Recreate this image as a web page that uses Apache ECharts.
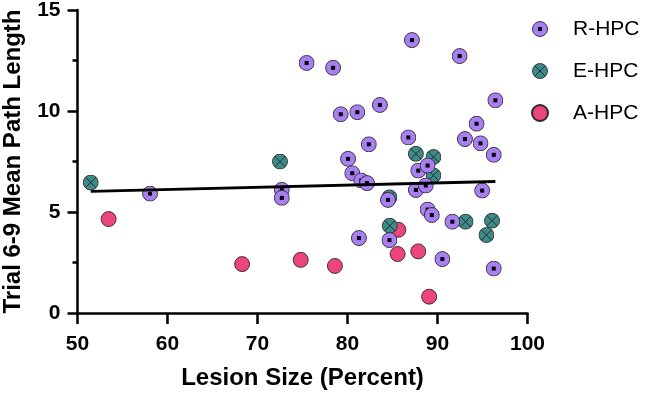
<!DOCTYPE html>
<html>
<head>
<meta charset="utf-8">
<script src="https://cdn.jsdelivr.net/npm/echarts@6/dist/echarts.min.js"></script>
<style>
    html, body { margin: 0; padding: 0; background: #fff; }
    #chart { width: 652px; height: 393px; }
</style>
</head>
<body>
<div id="chart"></div>
<script>
    // R-HPC points (lesion size %, mean path length)
    var rX = [58.06, 75.46, 78.4, 79.25, 81.09, 83.6, 82.37, 80.06, 80.53, 81.53, 82.17, 72.7, 72.7, 81.27,
              87.16, 86.76, 87.86, 88.9, 87.6, 88.7, 84.5, 88.9, 89.37, 84.66, 90.54, 91.65,
              92.46, 96.43, 94.34, 93.05, 94.78, 96.25, 94.96, 96.25];
    var rY = [5.91, 12.38, 12.14, 9.84, 9.94, 10.3, 8.35, 7.63, 6.92, 6.56, 6.43, 6.1, 5.7, 3.71,
              13.51, 8.69, 7.05, 7.3, 6.09, 6.31, 5.6, 5.12, 4.85, 3.61, 2.67, 4.52,
              12.72, 10.53, 9.37, 8.61, 8.4, 7.83, 6.06, 2.2];
    // E-HPC
    var eX = [51.47, 72.5, 87.6, 89.55, 89.55, 84.66, 84.7, 93.12, 96.06, 95.44];
    var eY = [6.46, 7.5, 7.88, 7.72, 6.81, 5.73, 4.32, 4.52, 4.57, 3.86];
    // A-HPC
    var aX = [53.46, 68.29, 74.8, 78.6, 85.65, 85.57, 87.86, 89.07];
    var aY = [4.65, 2.42, 2.63, 2.33, 4.12, 2.92, 3.05, 0.81];
    // fitted line end points
    var fitX = [51.47, 96.43];
    var fitY = [6.02, 6.51];

    var xTicks = [50, 60, 70, 80, 90, 100];
    var yTicks = [0, 5, 10, 15];

    function pairs(xs, ys) {
        return xs.map(function (x, i) { return [x, ys[i]]; });
    }

    function icon(fill, inner) {
        var s = '<svg xmlns="http://www.w3.org/2000/svg" width="32" height="32" viewBox="0 0 32 32">' +
            '<circle cx="16" cy="16" r="15" fill="' + fill + '" stroke="#2b2b2b" stroke-width="1.8"/>' +
            inner + '</svg>';
        return 'image://data:image/svg+xml;charset=utf-8,' + encodeURIComponent(s);
    }

    var rIcon = icon('#a97ff1', '<rect x="12" y="12" width="8" height="8" fill="#000"/>');
    var eIcon = icon('#3d8b88', '<path d="M5.6 5.6L26.4 26.4M26.4 5.6L5.6 26.4" stroke="#222" stroke-width="1.8"/>');

    var axisFont = 'Liberation Sans, Arial, sans-serif';

    var chart = echarts.init(document.getElementById('chart'));
    chart.setOption({
        animation: false,
        grid: { left: 77.5, right: 124.5, top: 10, bottom: 80, containLabel: false, outerBoundsMode: 'none' },
        legend: {
            data: ['R-HPC', 'E-HPC', 'A-HPC'],
            orient: 'vertical',
            left: 531,
            top: 18,
            padding: 0,
            itemWidth: 16,
            itemHeight: 16,
            itemGap: 20,
            textStyle: {
                fontFamily: axisFont,
                fontSize: 21,
                lineHeight: 22,
                color: '#000',
                padding: [0, 0, 0, 20]
            }
        },
        xAxis: {
            type: 'value',
            min: 50,
            max: 100,
            interval: 10,
            name: 'Lesion Size (Percent)',
            nameLocation: 'middle',
            nameGap: 53,
            nameTextStyle: { fontFamily: axisFont, fontSize: 24, fontWeight: 'bold', color: '#000' },
            splitLine: { show: false },
            axisLine: { onZero: false, lineStyle: { color: '#000', width: 2.5 } },
            axisTick: { length: 11, lineStyle: { color: '#000', width: 2.5 } },
            axisLabel: {
                margin: 21,
                fontFamily: axisFont,
                fontSize: 21,
                fontWeight: 'bold',
                color: '#000',
                formatter: function (v) { return xTicks.indexOf(v) >= 0 ? String(v) : ''; }
            }
        },
        yAxis: {
            type: 'value',
            min: 0,
            max: 15,
            interval: 5,
            name: 'Trial 6-9 Mean Path Length',
            nameLocation: 'middle',
            nameGap: 52,
            nameTextStyle: { fontFamily: axisFont, fontSize: 24, fontWeight: 'bold', color: '#000' },
            splitLine: { show: false },
            axisLine: { show: true, onZero: false, lineStyle: { color: '#000', width: 2.5 } },
            axisTick: { show: true, length: 10, lineStyle: { color: '#000', width: 2.5 } },
            minorTick: { show: true, splitNumber: 2, length: 5, lineStyle: { color: '#000', width: 2.5 } },
            axisLabel: {
                margin: 17,
                fontFamily: axisFont,
                fontSize: 21,
                fontWeight: 'bold',
                color: '#000',
                formatter: function (v) { return yTicks.indexOf(v) >= 0 ? String(v) : ''; }
            }
        },
        series: [
            {
                name: 'A-HPC',
                type: 'scatter',
                symbol: 'circle',
                symbolSize: 15,
                itemStyle: { color: '#ec4579', borderColor: '#2b2b2b', borderWidth: 0.9, opacity: 1 },
                data: pairs(aX, aY),
                z: 2
            },
            {
                name: 'E-HPC',
                type: 'scatter',
                symbol: eIcon,
                symbolSize: 16,
                itemStyle: { color: '#3d8b88', opacity: 1 },
                data: pairs(eX, eY),
                z: 3
            },
            {
                name: 'R-HPC',
                type: 'scatter',
                symbol: rIcon,
                symbolSize: 16,
                itemStyle: { color: '#a97ff1', opacity: 1 },
                data: pairs(rX, rY),
                z: 4
            },
            {
                name: 'fit',
                type: 'line',
                symbol: 'none',
                silent: true,
                lineStyle: { color: '#000', width: 2.8 },
                data: pairs(fitX, fitY),
                z: 5
            }
        ]
    });
</script>
</body>
</html>
